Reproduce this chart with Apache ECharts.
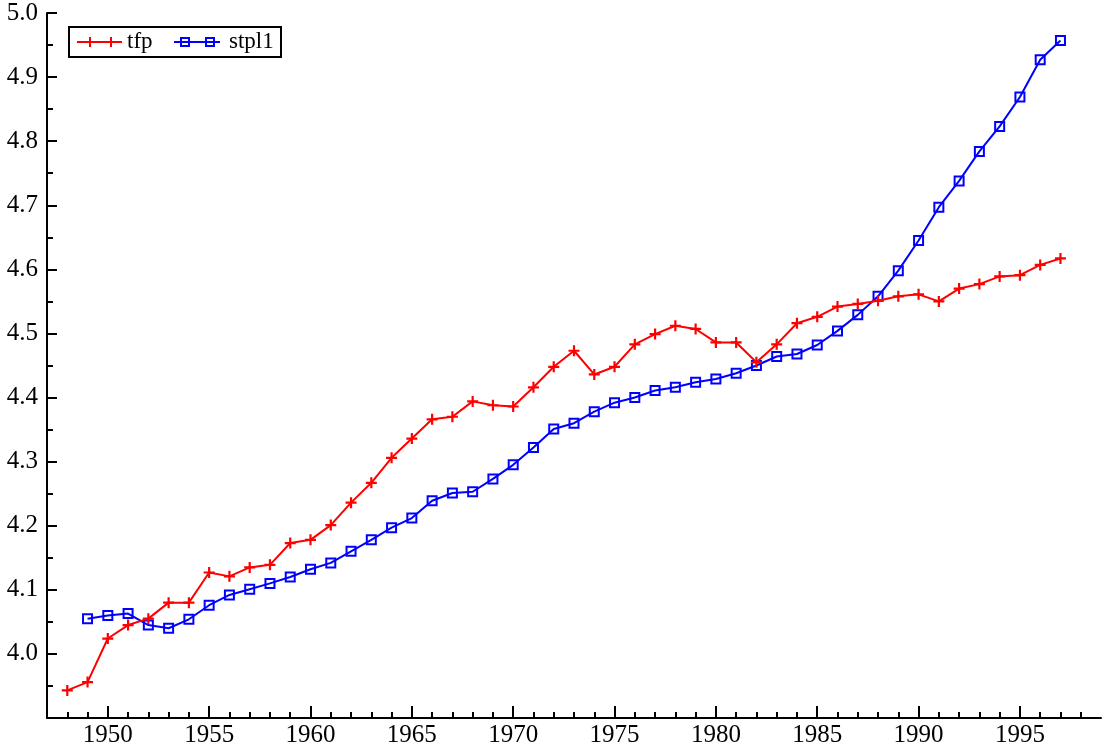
<!DOCTYPE html>
<html>
<head>
<meta charset="utf-8">
<title>tfp and stpl1</title>
<script src="https://cdn.jsdelivr.net/npm/echarts@6/dist/echarts.min.js"></script>
<style>
  html, body { margin: 0; padding: 0; background: #fff; }
  #chart { width: 1102px; height: 751px; }
</style>
</head>
<body>
<div id="chart"></div>
<script>
// Annual observations
const years = [
  1948, 1949, 1950, 1951, 1952, 1953, 1954, 1955, 1956, 1957,
  1958, 1959, 1960, 1961, 1962, 1963, 1964, 1965, 1966, 1967,
  1968, 1969, 1970, 1971, 1972, 1973, 1974, 1975, 1976, 1977,
  1978, 1979, 1980, 1981, 1982, 1983, 1984, 1985, 1986, 1987,
  1988, 1989, 1990, 1991, 1992, 1993, 1994, 1995, 1996, 1997
];
const tfp = [
  3.943, 3.956, 4.024, 4.045, 4.055, 4.080, 4.080, 4.127, 4.121, 4.135,
  4.139, 4.173, 4.178, 4.201, 4.236, 4.267, 4.306, 4.336, 4.366, 4.370,
  4.394, 4.388, 4.386, 4.416, 4.448, 4.473, 4.436, 4.448, 4.483, 4.499,
  4.512, 4.507, 4.486, 4.486, 4.455, 4.483, 4.516, 4.526, 4.542, 4.546,
  4.551, 4.558, 4.561, 4.550, 4.570, 4.577, 4.589, 4.591, 4.607, 4.617
];
// stpl1 starts in 1949
const stpl1 = [
  null, 4.055, 4.060, 4.063, 4.045, 4.040, 4.054, 4.076, 4.092, 4.101,
  4.110, 4.120, 4.132, 4.142, 4.160, 4.178, 4.197, 4.212, 4.239, 4.251,
  4.253, 4.273, 4.295, 4.322, 4.351, 4.360, 4.378, 4.392, 4.400, 4.411,
  4.416, 4.424, 4.429, 4.438, 4.450, 4.464, 4.468, 4.482, 4.504, 4.529,
  4.558, 4.598, 4.645, 4.697, 4.738, 4.784, 4.823, 4.869, 4.927, 4.957
];
const seriesNames = ['tfp', 'stpl1'];
const xMajorTicks = [1950, 1955, 1960, 1965, 1970, 1975, 1980, 1985, 1990, 1995];
const xMinorTicks = [];
for (let y = 1948; y <= 1998; y++) xMinorTicks.push(y);

const FONT = 'Liberation Serif';
const AXIS_FONT_SIZE = 25;
const KEY_FONT_SIZE = 23;
const RED = '#ff0000';
const BLUE = '#0000ff';
const PLUS = 'path://M4,0H6V4H10V6H6V10H4V6H0V4H4Z';

const chart = echarts.init(document.getElementById('chart'), null, { renderer: 'canvas' });

// Boxed key in the upper-left corner: line samples with two markers each
function legendGraphic() {
  const cy = 42;
  const font = KEY_FONT_SIZE + 'px "' + FONT + '"';
  return [
    { type: 'rect', shape: { x: 69, y: 27, width: 212, height: 30 },
      style: { fill: '#fff', stroke: '#000', lineWidth: 2 }, z: 100 },
    { type: 'line', shape: { x1: 77, y1: cy, x2: 122, y2: cy },
      style: { stroke: RED, lineWidth: 2 }, z: 101 },
    { type: 'rect', shape: { x: 89, y: cy - 5, width: 2, height: 10 }, style: { fill: RED }, z: 102 },
    { type: 'rect', shape: { x: 84, y: cy - 1, width: 12, height: 2 }, style: { fill: RED }, z: 102 },
    { type: 'rect', shape: { x: 110, y: cy - 5, width: 2, height: 10 }, style: { fill: RED }, z: 102 },
    { type: 'rect', shape: { x: 105, y: cy - 1, width: 12, height: 2 }, style: { fill: RED }, z: 102 },
    { type: 'text', x: 127, y: cy, style: { text: seriesNames[0], font: font, fill: '#000', verticalAlign: 'middle' }, z: 101 },
    { type: 'line', shape: { x1: 174, y1: cy, x2: 220, y2: cy },
      style: { stroke: BLUE, lineWidth: 2 }, z: 101 },
    { type: 'rect', shape: { x: 181, y: cy - 4, width: 8, height: 8 },
      style: { fill: 'none', stroke: BLUE, lineWidth: 2 }, z: 102 },
    { type: 'rect', shape: { x: 206, y: cy - 4, width: 8, height: 8 },
      style: { fill: 'none', stroke: BLUE, lineWidth: 2 }, z: 102 },
    { type: 'text', x: 229, y: cy, style: { text: seriesNames[1], font: font, fill: '#000', verticalAlign: 'middle' }, z: 101 }
  ];
}

const option = {
  backgroundColor: '#ffffff',
  animation: false,
  grid: { left: 47, right: 1, top: 13, bottom: 33, containLabel: false },
  xAxis: [
    {
      type: 'value', min: 1947, max: 1999,
      axisLine: { show: true, lineStyle: { color: '#000', width: 2 } },
      axisTick: { show: true, inside: true, length: 12, customValues: xMajorTicks, lineStyle: { color: '#000', width: 2 } },
      axisLabel: {
        show: true, customValues: xMajorTicks, margin: 5, color: '#000',
        fontFamily: FONT, fontSize: AXIS_FONT_SIZE,
        formatter: v => String(Math.round(v))
      },
      splitLine: { show: false }
    },
    {
      type: 'value', min: 1947, max: 1999, position: 'bottom',
      axisLine: { show: false },
      axisTick: { show: true, inside: true, length: 6, customValues: xMinorTicks, lineStyle: { color: '#000', width: 2 } },
      axisLabel: { show: false },
      splitLine: { show: false }
    }
  ],
  yAxis: {
    type: 'value', min: 3.9, max: 5.0, interval: 0.1,
    axisLine: { show: true, lineStyle: { color: '#000', width: 2 } },
    axisTick: { show: true, inside: true, length: 10, lineStyle: { color: '#000', width: 2 } },
    minorTick: { show: true, splitNumber: 2, length: 6, lineStyle: { color: '#000', width: 2 } },
    axisLabel: {
      margin: 9, color: '#000', fontFamily: FONT, fontSize: AXIS_FONT_SIZE,
      formatter: v => (Math.abs(v - 3.9) < 1e-6 ? '' : v.toFixed(1))
    },
    splitLine: { show: false },
    minorSplitLine: { show: false }
  },
  series: [
    {
      name: seriesNames[0], type: 'line', xAxisIndex: 0,
      data: years.map((y, i) => [y, tfp[i]]),
      symbol: PLUS, symbolSize: 11,
      itemStyle: { color: RED },
      lineStyle: { color: RED, width: 2 },
      z: 3
    },
    {
      name: seriesNames[1], type: 'line', xAxisIndex: 0,
      data: years.map((y, i) => [y, stpl1[i]]),
      symbol: 'rect', symbolSize: 9,
      itemStyle: { color: 'rgba(0,0,0,0)', borderColor: BLUE, borderWidth: 2 },
      lineStyle: { color: BLUE, width: 2 },
      z: 2
    }
  ],
  graphic: legendGraphic()
};

chart.setOption(option);
</script>
</body>
</html>
